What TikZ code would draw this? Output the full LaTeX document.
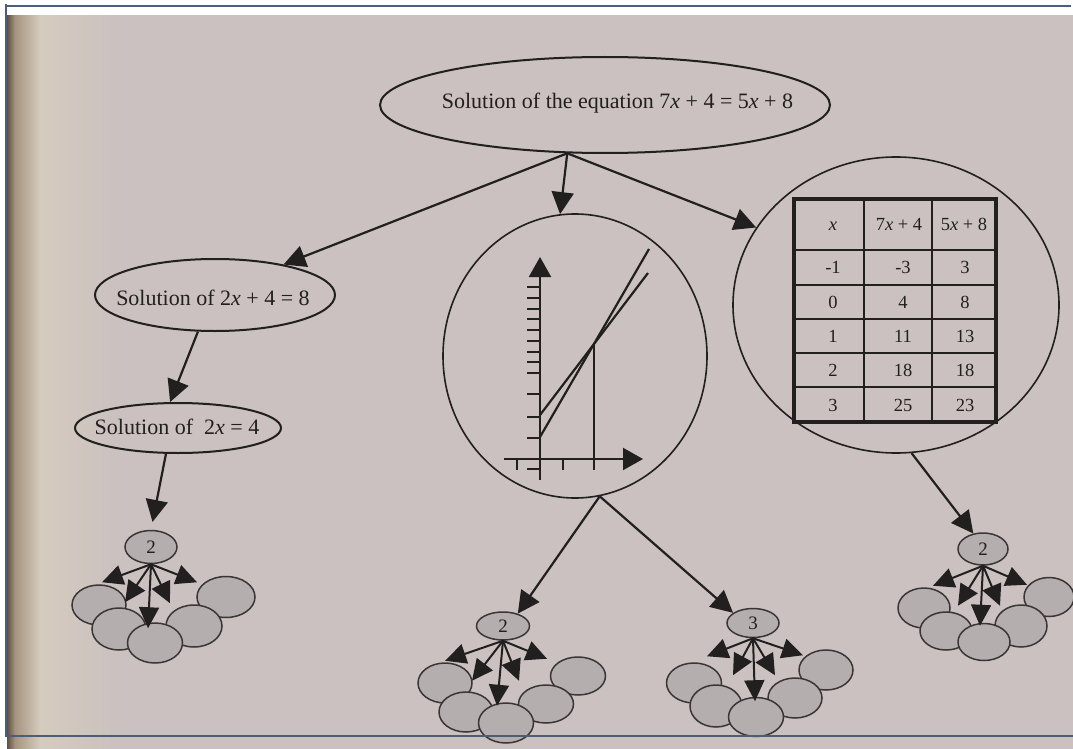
\documentclass[tikz,border=0pt]{standalone}
\usepackage{fontspec}
\setmainfont{Liberation Serif}
\usetikzlibrary{shapes.geometric,arrows.meta}

\definecolor{paper}{RGB}{202,193,192}
\definecolor{gutA}{RGB}{96,80,64}
\definecolor{gutB}{RGB}{165,148,128}
\definecolor{gutC}{RGB}{213,203,190}
\definecolor{inkc}{RGB}{34,31,31}
\definecolor{blobfill}{RGB}{180,174,174}
\definecolor{blobline}{RGB}{58,54,54}
\definecolor{frameblue}{RGB}{74,94,120}

\begin{document}
\begin{tikzpicture}[x=1pt,y=-1pt,
  oval/.style={ellipse, draw=inkc, line width=2pt, inner sep=0pt},
  ring/.style={ellipse, draw=inkc, line width=1.6pt, inner sep=0pt},
  blob/.style={ellipse, draw=blobline, fill=blobfill, line width=1.5pt, inner sep=0pt},
  numnode/.style={ellipse, draw=blobline, fill=blobfill, line width=1.5pt, inner sep=0pt,
    text=inkc, font=\fontsize{19}{22}\selectfont},
  lbl/.style={text=inkc, font=\fontsize{22}{26}\selectfont, inner sep=0pt, anchor=base},
  cell/.style={text=inkc, font=\fontsize{18.5}{22}\selectfont, inner sep=0pt, anchor=base},
  arr/.style={draw=inkc, line width=2.2pt, -{Triangle[length=22pt,width=22pt]}},
  sarr/.style={draw=inkc, line width=2pt, -{Triangle[length=21pt,width=20pt]}},
  axis/.style={draw=inkc, line width=2.2pt},
  tick/.style={draw=inkc, line width=2pt},
]
\useasboundingbox (0,0) rectangle (1073,749);

% page and gutter shadow
\fill[white] (0,0) rectangle (1073,749);
\fill[paper] (7,15.5) rectangle (1073,749);
\shade[left color=gutA, right color=gutB] (7,15.5) rectangle (15,749);
\shade[left color=gutB, right color=gutC] (15,15.5) rectangle (40,749);
\shade[left color=gutC, right color=paper] (40,15.5) rectangle (120,749);

% ---------- main nodes ----------
\node[oval, minimum width=450pt, minimum height=96pt] (top) at (605,105) {};
\node[lbl] (toptxt) at (617.5,108.5) {Solution of the equation 7\textit{x} + 4 = 5\textit{x} + 8};

\node[oval, minimum width=240pt, minimum height=72pt] (leq1) at (215,295) {};
\node[lbl] (leq1txt) at (213,305) {Solution of 2\textit{x} + 4 = 8};

\node[oval, minimum width=206pt, minimum height=50pt] (leq2) at (178,428) {};
\node[lbl] (leq2txt) at (177,434) {Solution of \ 2\textit{x} = 4};

\node[ring, minimum width=264pt, minimum height=284pt] (gcirc) at (575,356) {};
\node[ring, minimum width=326pt, minimum height=296pt] (tcirc) at (896,305) {};

% ---------- graph of the two lines ----------
\draw[axis, -{Triangle[length=20pt,width=22pt]}] (540,480) -- (540,257);
\draw[axis, -{Triangle[length=20pt,width=22pt]}] (504,459) -- (643,459);
\foreach \ty in {287,298,309,319,330,341,352,362,373,394,417,438,469}
  \draw[tick] (527,\ty) -- (540,\ty);
\foreach \tx in {517,563,594}
  \draw[tick] (\tx,459) -- (\tx,470);
\draw[axis] (540,437) -- (649,249);
\draw[axis] (540,415) -- (648,273);
\draw[draw=inkc, line width=1.1pt] (594,344) -- (594,459);

% ---------- table of values ----------
\foreach \gx in {864,932}
  \draw[draw=inkc, line width=2pt] (\gx,199) -- (\gx,422);
\foreach \gy in {250,285,319,353,387}
  \draw[draw=inkc, line width=2pt] (794,\gy) -- (996,\gy);
\draw[draw=inkc, line width=4.5pt] (794,199) rectangle (996,422);
\node[cell] (thx) at (833,230.5) {\textit{x}};
\node[cell] (th7) at (899,230.5) {7\textit{x} + 4};
\node[cell] (th5) at (964,230.5) {5\textit{x} + 8};
\foreach \a/\b/\c [count=\i] in {-1/-3/3, 0/4/8, 1/11/13, 2/18/18, 3/25/23}{
  \pgfmathsetmacro\yy{239.3+34.4*\i}
  \node[cell] (ta\i) at (833,\yy) {\a};
  \node[cell] (tb\i) at (903,\yy) {\b};
  \node[cell] (tc\i) at (965,\yy) {\c};
}

% ---------- clusters of ovals ----------
\foreach \bx/\by/\bw/\bh [count=\i] in
  {99/605/54/40, 226/597/58/41, 119/629/54/42, 194/626/56/42, 155/643/55/40}
  \node[blob, minimum width=\bw pt, minimum height=\bh pt] (ca\i) at (\bx,\by) {};
\foreach \bx/\by/\bw/\bh [count=\i] in
  {445/683/54/40, 578/676/55/38, 466/712/54/40, 546/704/55/38, 506/723/55/40}
  \node[blob, minimum width=\bw pt, minimum height=\bh pt] (cb\i) at (\bx,\by) {};
\foreach \bx/\by/\bw/\bh [count=\i] in
  {694/683/55/40, 826/670/54/40, 716/706/52/42, 795/698/54/40, 756/717/55/39}
  \node[blob, minimum width=\bw pt, minimum height=\bh pt] (cc\i) at (\bx,\by) {};
\foreach \bx/\by/\bw/\bh [count=\i] in
  {924/608/52/40, 1049/597/50/39, 946/631/52/38, 1021/626/52/42, 984/642/52/37}
  \node[blob, minimum width=\bw pt, minimum height=\bh pt] (cd\i) at (\bx,\by) {};

\node[numnode, minimum width=52pt, minimum height=33pt] (c1) at (151,547) {2};
\node[numnode, minimum width=53pt, minimum height=28pt] (c2) at (503,626) {2};
\node[numnode, minimum width=52pt, minimum height=29pt] (c3) at (753,623) {3};
\node[numnode, minimum width=50pt, minimum height=32pt] (c4) at (983,549) {2};

\foreach \dx/\dy in {-49/18, -26/38, -3/64, 19/39, 46/18}
  \draw[sarr] (c1.south) -- ++(\dx,\dy);
\foreach \dx/\dy in {-58/20, -31/40, -6/65, 16/40, 44/18}
  \draw[sarr] (c2.south) -- ++(\dx,\dy);
\foreach \dx/\dy in {-46/18, -20/37, 2/63, 22/37, 50/17}
  \draw[sarr] (c3.south) -- ++(\dx,\dy);
\foreach \dx/\dy in {-50/20, -25/40, -3/60, 17/40, 44/19}
  \draw[sarr] (c4.south) -- ++(\dx,\dy);

% ---------- connectors ----------
\draw[arr] (top.232) -- (leq1.24);
\draw[arr] (top.232) -- (gcirc.96);
\draw[arr] (top.232) -- (tcirc.151);
\draw[arr] (leq1.245) -- (leq2.107);
\draw[arr, shorten >=8pt] (leq2.245) -- (c1.north);
\draw[arr] (gcirc.280) -- (c2.40);
\draw[arr] (gcirc.280) -- (c3.153);
\draw[arr] (tcirc.276) -- (c4.122);

% ---------- frame ----------
\draw[frameblue, line width=2.5pt] (4.5,6) -- (1071,6);
\draw[frameblue, line width=2.5pt] (6,4.5) -- (6,737);
\draw[frameblue, line width=2.5pt] (4.5,736) -- (1073,736);
\end{tikzpicture}
\end{document}
